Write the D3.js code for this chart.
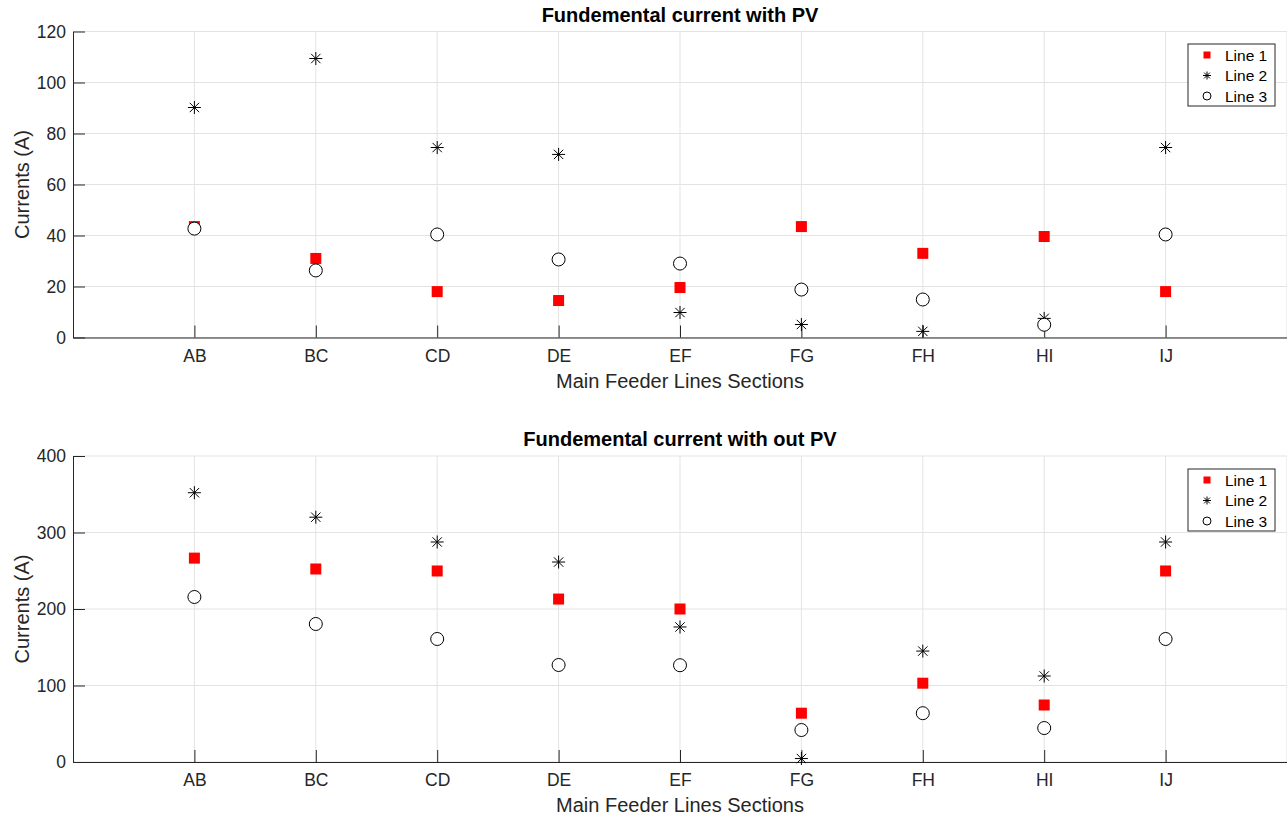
<!DOCTYPE html>
<html><head><meta charset="utf-8">
<script src="https://cdn.jsdelivr.net/npm/d3@7"></script>
<style>body{margin:0;background:#fff}svg{display:block}text{font-family:"Liberation Sans",Arial,Helvetica,sans-serif;fill:#262626}</style>
</head><body><svg id="c" width="1287" height="815"></svg>
<script>
const categories = ["AB","BC","CD","DE","EF","FG","FH","HI","IJ"];
const seriesNames = ["Line 1","Line 2","Line 3"];
// Top: with PV
const pvLine1 = [43.5, 31, 18, 14.5, 19.6, 43.5, 33, 39.6, 18];
const pvLine2 = [90.2, 109.4, 74.5, 71.8, 9.8, 5.1, 2.4, 7.5, 74.5];
const pvLine3 = [42.7, 26.3, 40.4, 30.6, 29, 18.8, 14.9, 5, 40.4];
// Bottom: without PV
const noPvLine1 = [266.5, 252.3, 249.7, 213, 200, 63.8, 103, 74.5, 249.7];
const noPvLine2 = [352, 320, 287.6, 261.4, 176.5, 4.5, 145, 112.4, 287.6];
const noPvLine3 = [215.7, 180.4, 160.8, 126.8, 126.5, 41.8, 63.8, 44.4, 160.8];
const topTicks = [0,20,40,60,80,100,120];
const bottomTicks = [0,100,200,300,400];
const xTicks = [0,1,2,3,4,5,6,7,8,9,10];

const svg = d3.select("#c");
const x = d3.scaleLinear().domain([0,10]).range([73,1287]);

function symbol(g, type, cx, cy, s){
  if(type===0){
    g.append("rect").attr("x",cx-s/2).attr("y",cy-s/2).attr("width",s).attr("height",s).attr("fill","#ff0000");
  } else if(type===1){
    const r=s/2, d=r*0.72;
    const p=`M${cx-r},${cy}L${cx+r},${cy}M${cx},${cy-r}L${cx},${cy+r}M${cx-d},${cy-d}L${cx+d},${cy+d}M${cx-d},${cy+d}L${cx+d},${cy-d}`;
    g.append("path").attr("d",p).attr("stroke","#000").attr("stroke-width",1).attr("fill","none");
  } else {
    g.append("circle").attr("cx",cx).attr("cy",cy).attr("r",s/2).attr("fill","#fff").attr("stroke","#000").attr("stroke-width",1);
  }
}

function panel(top, bottom, ymax, yticks, title, data, legTop){
  const y = d3.scaleLinear().domain([0,ymax]).range([bottom, top]);
  const g = svg.append("g");
  // grid
  g.selectAll(".gy").data(yticks).join("line")
    .attr("x1",73).attr("x2",1287).attr("y1",d=>y(d)).attr("y2",d=>y(d))
    .attr("stroke","#e3e3e3").attr("stroke-width",1);
  g.selectAll(".gx").data(xTicks.slice(1)).join("line")
    .attr("x1",d=>x(d)).attr("x2",d=>x(d)).attr("y1",top).attr("y2",bottom)
    .attr("stroke","#e3e3e3").attr("stroke-width",1);
  // axes
  const ax = d3.axisBottom(x).tickValues(xTicks).tickSizeInner(-12).tickSizeOuter(0)
    .tickFormat(d=> (d>=1&&d<=9)?categories[d-1]:"").tickPadding(19);
  const xa = g.append("g").attr("transform",`translate(0,${bottom})`).call(ax);
  const ay = d3.axisLeft(y).tickValues(yticks).tickSizeInner(-12).tickSizeOuter(0).tickPadding(19);
  const ya = g.append("g").attr("transform",`translate(73,0)`).call(ay);
  [xa,ya].forEach(a=>{
    a.select(".domain").attr("stroke","#262626").attr("stroke-width",1);
    a.selectAll(".tick line").attr("stroke","#262626").attr("stroke-width",1);
    a.selectAll("text").attr("font-size",17.5).style("fill","#262626").attr("font-family","Liberation Sans, Arial, sans-serif");
  });
  xa.selectAll("text").attr("dy","0.71em").attr("y",12);
  ya.selectAll("text").attr("x",-7);
  // markers
  data.forEach((vals,si)=>{
    vals.forEach((v,i)=>{
      symbol(g, si, x(i+1), y(v), si===0?11:13);
    });
  });
  // title & labels
  g.append("text").attr("x",680).attr("y",top-10).attr("text-anchor","middle")
    .attr("font-size",20).attr("font-weight","bold").style("fill","#000").text(title);
  g.append("text").attr("x",680).attr("y",bottom+50).attr("text-anchor","middle")
    .attr("font-size",20).text("Main Feeder Lines Sections");
  g.append("text").attr("transform",`translate(29,${(top+bottom)/2}) rotate(-90)`).attr("text-anchor","middle")
    .attr("font-size",20).text("Currents (A)");
  // legend
  const lg = g.append("g");
  lg.append("rect").attr("x",1188).attr("y",legTop).attr("width",87).attr("height",62)
    .attr("fill","#fff").attr("stroke","#262626").attr("stroke-width",1);
  seriesNames.forEach((n,i)=>{
    const cy = legTop+11+i*20.5;
    symbol(lg, i, 1207, cy, i===0?7:8);
    lg.append("text").attr("x",1225).attr("y",cy+5.5).attr("font-size",15.5).style("fill","#000").text(n);
  });
}

panel(31.5, 337.5, 120, topTicks, "Fundemental current with PV", [pvLine1,pvLine2,pvLine3], 44);
panel(456, 762, 400, bottomTicks, "Fundemental current with out PV", [noPvLine1,noPvLine2,noPvLine3], 469);
</script></body></html>
